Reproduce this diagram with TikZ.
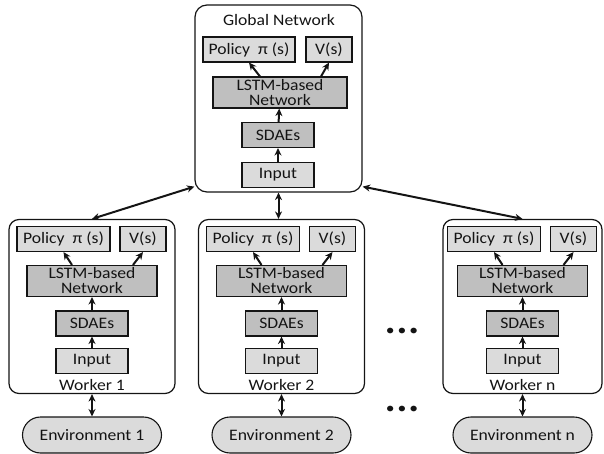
\documentclass[tikz,border=0pt]{standalone}
\usepackage{fontspec}
\setmainfont{Carlito}[FakeStretch=1.1]
\usepackage{xcolor}
\usetikzlibrary{arrows.meta, positioning, shapes.misc}

\definecolor{lightcellfill}{gray}{0.86}
\definecolor{darkcellfill}{gray}{0.75}
\definecolor{inkline}{gray}{0.08}

\begin{document}
\begin{tikzpicture}[
  x=1pt, y=-1pt,
  >={Stealth[length=7.5pt, width=7pt]},
  every node/.style={font=\fontsize{16}{15}\selectfont, text=inkline, inner sep=1pt},
  frame/.style={draw=inkline, rounded corners=10pt, line width=1.2pt},
  lightcell/.style={draw=inkline, fill=lightcellfill, line width=1.1pt, minimum height=25pt},
  darkcell/.style={draw=inkline, fill=darkcellfill, line width=1.1pt, align=center},
  envbox/.style={draw=inkline, fill=lightcellfill, rounded rectangle, minimum width=141pt, minimum height=36pt, line width=1.1pt},
  feed/.style={->, draw=inkline, line width=2pt},
  link/.style={<->, draw=inkline, line width=2pt}
]
\useasboundingbox (0,0) rectangle (604,454);

% global network
\node[frame, rounded corners=12pt, minimum width=167pt, minimum height=187pt] (global) at (278.5,98.5) {};
\node (globallab) at (279,20) {Global Network};
\node[lightcell, minimum width=92pt] (gpol) at (249,49.5) {Policy\ \ π (s)};
\node[lightcell, minimum width=46pt] (gv) at (329,49.5) {V(s)};
\node[darkcell, minimum width=134pt, minimum height=31pt] (glstm) at (280,92.5) {LSTM-based\\Network};
\node[darkcell, minimum width=72pt, minimum height=25pt] (gsdae) at (278,135) {SDAEs};
\node[lightcell, minimum width=72pt] (gin) at (278,175) {Input};

\draw[feed] (gin) -- (gsdae);
\draw[feed] (gsdae) -- (glstm);
\draw[feed] ([xshift=-20pt]glstm.north) -- (gpol.south);
\draw[feed] ([xshift=41pt]glstm.north) -- (gv.south);

% workers and their environments
\foreach \i/\c/\w in {1/92/166pt, 2/281.5/166pt, n/522.5/159pt} {
  \node[frame, minimum width=\w, minimum height=174pt] (w\i) at (\c,306.5) {};
  \node (lab\i) at (\c,385) {Worker \i};
  \node[lightcell, minimum width=93pt] (pol\i) at (\c-28.5,239) {Policy\ \ π (s)};
  \node[lightcell, minimum width=46pt] (v\i) at (\c+51,239) {V(s)};
  \node[darkcell, minimum width=130pt, minimum height=31pt] (lstm\i) at (\c,281) {LSTM-based\\Network};
  \node[darkcell, minimum width=72pt, minimum height=25pt] (sdae\i) at (\c,323.5) {SDAEs};
  \node[lightcell, minimum width=72pt] (in\i) at (\c,361) {Input};
  \node[envbox] (env\i) at (\c,435) {Environment \i};

  \draw[feed] (in\i) -- (sdae\i);
  \draw[feed] (sdae\i) -- (lstm\i);
  \draw[feed] ([xshift=-20pt]lstm\i.north) -- (pol\i.south);
  \draw[feed] ([xshift=41pt]lstm\i.north) -- (v\i.south);
  \draw[link] (env\i.north |- w\i.south) -- (env\i.north);
}

\draw[link] ([yshift=6pt]global.south west) -- (w1.north);
\draw[link] (global.south) -- (global.south |- w2.north);
\draw[link] ([yshift=6pt]global.south east) -- (wn.north);

% dots between worker 2 and worker n
\node (dotsw) at (402,332) {•\hspace{3pt}•\hspace{3pt}•};
\node (dotse) at (402,410) {•\hspace{3pt}•\hspace{3pt}•};
\end{tikzpicture}
\end{document}
